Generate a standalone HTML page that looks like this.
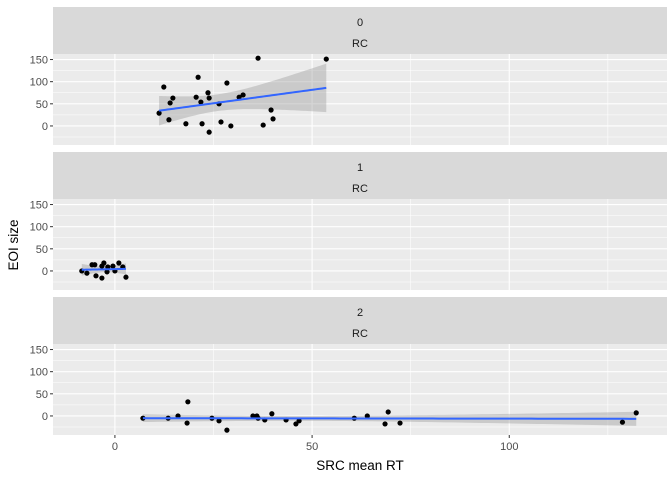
<!DOCTYPE html>
<html><head><meta charset="utf-8"><style>
body{margin:0;background:#fff;font-family:"Liberation Sans",Arial,sans-serif}
</style></head><body>
<svg id="chart" width="672" height="480" viewBox="0 0 672 480" xmlns="http://www.w3.org/2000/svg"></svg>
<script>
const panelLabels = ["0","1","2"];
const p0x = [11.2,12.4,13.7,14.0,14.7,18.0,20.6,21.1,21.8,22.1,23.6,23.9,23.9,26.4,26.9,28.4,29.4,31.5,32.5,36.3,37.6,39.6,40.1,53.6];
const p0y = [29,88,14,52,63,5,65,110,54,5,75,-14,63,50,9,97,0,65,70,153,2,36,16,151];
const p1x = [-8.4,-7.1,-5.8,-5.1,-4.8,-3.3,-3.3,-2.8,-2.0,-1.8,-0.5,0,1.0,2.0,2.8];
const p1y = [0,-5,14,14,-11,11,-16,18,-2,9,11,0,18,9,-14];
const p2x = [7.1,13.5,16,18.5,18.3,24.6,26.4,28.4,35,36,36.3,38,39.8,43.4,45.9,46.7,60.7,64,69.3,68.5,72.3,128.7,132.2];
const p2y = [-5,-5,0,32,-16,-5,-11,-32,0,0,-5,-9,5,-9,-18,-11,-5,0,9,-18,-16,-14,7];
const xTicks = [0,50,100];
const yTicks = [0,50,100,150];
const seriesX = [p0x,p1x,p2x];
const seriesY = [p0y,p1y,p2y];

const NS="http://www.w3.org/2000/svg";
const svg=document.getElementById('chart');
function mk(t,a,parent){const e=document.createElementNS(NS,t);for(const k in a)e.setAttribute(k,a[k]);(parent||svg).appendChild(e);return e;}
const L=53,R=667;
const X0=-15.7,X1=140;
const xs=v=>L+(v-X0)/(X1-X0)*(R-L);
const stripTops=[7,152,297];
const SH=47, PH=91;
const Y0=-43,Y1=162.5;

for(let p=0;p<3;p++){
  const st=stripTops[p], pt=st+SH, pb=pt+PH;
  const ys=v=>pb-(v-Y0)/(Y1-Y0)*PH;
  const g=mk('g',{});
  
  
  const s=mk('rect',{x:L,y:st,width:R-L,height:SH,fill:'#d9d9d9'},g);
  
  
  const t1=mk('text',{x:(L+R)/2,y:st+19,'text-anchor':'middle','font-size':11,fill:'#1a1a1a'},g);t1.textContent=panelLabels[p];
  
  
  const t2=mk('text',{x:(L+R)/2,y:st+40,'text-anchor':'middle','font-size':11,fill:'#1a1a1a'},g);t2.textContent='RC';
  
  
  const bg=mk('rect',{x:L,y:pt,width:R-L,height:PH,fill:'#ebebeb'},g);
  
  
  // grids
  for(let i=0;i<yTicks.length;i++){const v=yTicks[i];
    mk('line',{x1:L,x2:R,y1:ys(v),y2:ys(v),stroke:'#fff','stroke-width':1.1},g);
    mk('line',{x1:L,x2:R,y1:ys(v-25),y2:ys(v-25),stroke:'#fff','stroke-width':0.55},g);
    mk('line',{x1:L-3,x2:L,y1:ys(v),y2:ys(v),stroke:'#333','stroke-width':1},g);
    const tl=mk('text',{x:L-5,y:ys(v)+4,'text-anchor':'end','font-size':11,fill:'#4d4d4d'},g);tl.textContent=v;
    
    
  }
  for(let i=0;i<xTicks.length;i++){const v=xTicks[i];
    mk('line',{x1:xs(v),x2:xs(v),y1:pt,y2:pb,stroke:'#fff','stroke-width':1.1},g);
    mk('line',{x1:xs(v+25),x2:xs(v+25),y1:pt,y2:pb,stroke:'#fff','stroke-width':0.55},g);
  }
  // regression
  const xa=seriesX[p], ya=seriesY[p], n=xa.length;
  const mx=xa.reduce((a,b)=>a+b)/n, my=ya.reduce((a,b)=>a+b)/n;
  let sxx=0,sxy=0;for(let i=0;i<n;i++){sxx+=(xa[i]-mx)**2;sxy+=(xa[i]-mx)*(ya[i]-my);}
  const b=sxy/sxx, a=my-b*mx;
  let sse=0;for(let i=0;i<n;i++)sse+=(ya[i]-a-b*xa[i])**2;
  const se=Math.sqrt(sse/(n-2)), tq=2.07;
  const xmin=Math.min(...xa), xmax=Math.max(...xa);
  const up=[],lo=[],ln=[];
  for(let k=0;k<=80;k++){const x=xmin+(xmax-xmin)*k/80;const f=a+b*x;const w=tq*se*Math.sqrt(1/n+(x-mx)**2/sxx);
    up.push(xs(x)+','+ys(f+w));lo.unshift(xs(x)+','+ys(f-w));ln.push(xs(x)+','+ys(f));}
  const rib=mk('polygon',{points:up.concat(lo).join(' '),fill:'#999','fill-opacity':0.4},g);
  
  
  for(let i=0;i<n;i++){const c=mk('circle',{cx:xs(xa[i]),cy:ys(ya[i]),r:2.6,fill:'#000'},g);
    
    }
  const fl=mk('polyline',{points:ln.join(' '),fill:'none',stroke:'#3366ff','stroke-width':2},g);
  
  
  if(p===2){
    for(let i=0;i<xTicks.length;i++){const v=xTicks[i];
      mk('line',{x1:xs(v),x2:xs(v),y1:pb,y2:pb+3,stroke:'#333','stroke-width':1},g);
      const tl=mk('text',{x:xs(v),y:pb+15,'text-anchor':'middle','font-size':11,fill:'#4d4d4d'},g);tl.textContent=v;
      
      }
  }
}
const xt=mk('text',{x:(L+R)/2,y:470,'text-anchor':'middle','font-size':13.5,fill:'#000'});xt.textContent='SRC mean RT';


const yt=mk('text',{x:0,y:0,'text-anchor':'middle','font-size':13.5,fill:'#000',transform:'translate(18,245) rotate(-90)'});yt.textContent='EOI size';


</script>
</body></html>
